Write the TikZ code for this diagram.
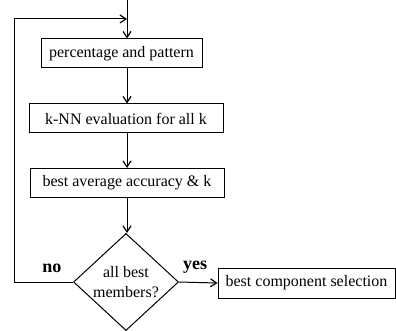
\documentclass[tikz,border=0pt]{standalone}
\usepackage{fontspec}
\setmainfont{Liberation Serif}
\usetikzlibrary{arrows.meta,shapes.geometric,positioning}

\tikzset{
  stepbox/.style={draw,line width=1pt,minimum height=29pt,inner sep=0pt,
    font=\fontsize{16}{20}\selectfont},
  decide/.style={draw,diamond,line width=1pt,minimum width=105pt,minimum height=96pt,
    inner sep=0pt,align=center,font=\fontsize{16}{20}\selectfont},
  flow/.style={line width=1pt,-{Straight Barb[length=6pt,width=8pt,line width=1.2pt]}},
  answer/.style={font=\fontsize{18}{20}\selectfont\bfseries,anchor=south,yshift=5pt}
}

\begin{document}
\begin{tikzpicture}[x=1pt,y=-1pt]
\useasboundingbox (0,0) rectangle (396,331);
\begin{scope}
\path (127,0) coordinate (in);
\node [stepbox,minimum width=161pt] (pct) at (121.5,53.5) {percentage and pattern};
\node [stepbox,minimum width=194pt] (knn) at (126,118.5) {k-NN evaluation for all k};
\node [stepbox,minimum width=194pt] (best) at (127,183) {best average accuracy \& k};
\node [decide] (ask) at (126,282) {all best\\members?};
\node [stepbox,minimum width=177pt,minimum height=30pt] (select) at (306.5,283) {best component selection};
\path (14,282) coordinate (lowcorner);
\path (14,19) coordinate (highcorner);
\path (127,19) coordinate (join);

\draw [flow] (in) -- (pct.north -| in);
\draw [flow] (pct.south -| in) -- (knn.north -| in);
\draw [flow] (knn.south -| in) -- (best.north -| in);
\draw [flow] (best.south -| in) -- (ask.north -| in);
\draw [flow] (ask.east) to node [answer,pos=0.42] {yes} (select.west);
\draw [flow] (ask.west) to node [answer,pos=0.36] {no} (lowcorner) -- (highcorner) -- (join);
\end{scope}
\end{tikzpicture}
\end{document}
